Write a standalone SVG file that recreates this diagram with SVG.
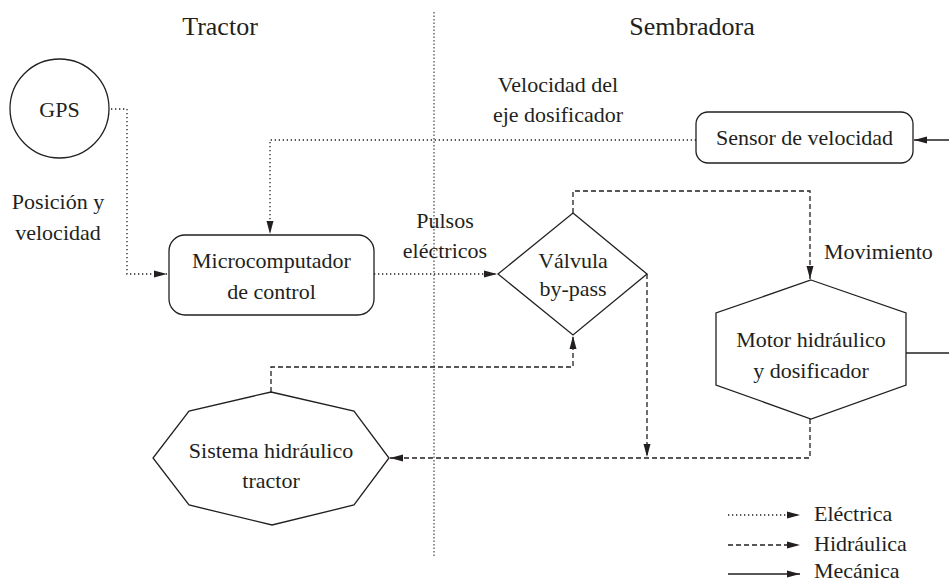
<svg xmlns="http://www.w3.org/2000/svg" width="949" height="583" viewBox="0 0 949 583">
<style>
  .bg{fill:#ffffff}
  .shape{fill:none;stroke:#231f20;stroke-width:1.3}
  .txt{font-family:"Liberation Serif","DejaVu Serif",serif;font-size:22px;fill:#231f20;text-anchor:middle}
  .title{font-size:26px}
  .lft{text-anchor:start}
  .elec{fill:none;stroke:#231f20;stroke-width:1.3;stroke-dasharray:1.3 2.7}
  .hyd{fill:none;stroke:#231f20;stroke-width:1.3;stroke-dasharray:5 3}
  .mec{fill:none;stroke:#231f20;stroke-width:1.3}
  .div{fill:none;stroke:#231f20;stroke-width:1;stroke-dasharray:1.5 2}
</style>
<defs>
  <marker id="arr" markerUnits="userSpaceOnUse" markerWidth="14" markerHeight="10" viewBox="0 0 14 10" refX="13" refY="5" orient="auto">
    <path d="M0,1.5 L13,5 L0,8.5 Z" fill="#231f20"/>
  </marker>
</defs>
<rect class="bg" x="0" y="0" width="949" height="583"/>

<line id="divider" class="div" x1="434" y1="12" x2="434" y2="556"/>
<text class="txt title" x="220" y="35">Tractor</text>
<text class="txt title" x="692" y="35">Sembradora</text>

<g id="connectors">
  <polyline class="elec" points="111,109 127,109 127,274 167,274" marker-end="url(#arr)"/>
  <polyline class="elec" points="696,140 270,140 270,234" marker-end="url(#arr)"/>
  <line class="elec" x1="374" y1="274" x2="497" y2="274" marker-end="url(#arr)"/>
  <line class="mec" x1="949" y1="140" x2="914" y2="140" marker-end="url(#arr)"/>
  <polyline class="hyd" points="573,213 573,191 810,191 810,279" marker-end="url(#arr)"/>
  <polyline class="hyd" points="647,274 647,457" marker-end="url(#arr)"/>
  <polyline class="hyd" points="810,419 810,458 390,458" marker-end="url(#arr)"/>
  <polyline class="hyd" points="271,392 271,367 573,367 573,336" marker-end="url(#arr)"/>
  <line class="mec" x1="906" y1="353" x2="949" y2="353"/>
</g>

<g id="lbl-gps-out">
  <text class="txt" x="58" y="209">Posición y</text>
  <text class="txt" x="58" y="240">velocidad</text>
</g>
<g id="lbl-vel-eje">
  <text class="txt" x="558" y="92">Velocidad del</text>
  <text class="txt" x="558" y="122">eje dosificador</text>
</g>
<g id="lbl-pulsos">
  <text class="txt" x="445" y="228">Pulsos</text>
  <text class="txt" x="445" y="258">eléctricos</text>
</g>
<text id="lbl-mov" class="txt lft" x="824" y="259">Movimiento</text>

<g id="gps">
  <circle class="shape" cx="59.5" cy="108.5" r="49.5"/>
  <text class="txt" x="59.5" y="117">GPS</text>
</g>

<g id="micro">
  <rect class="shape" x="169" y="235" width="205" height="80" rx="16" ry="16"/>
  <text class="txt" x="271.5" y="268">Microcomputador</text>
  <text class="txt" x="271.5" y="299">de control</text>
</g>

<g id="valvula">
  <polygon class="shape" points="573,213 647,274 573,335 498,274"/>
  <text class="txt" x="573" y="268">Válvula</text>
  <text class="txt" x="573" y="296">by-pass</text>
</g>

<g id="sensor">
  <rect class="shape" x="696" y="112" width="217" height="51" rx="12" ry="12"/>
  <text class="txt" x="804.5" y="145">Sensor de velocidad</text>
</g>

<g id="motor">
  <polygon class="shape" points="811,280 906,313 906,385 811,419 716,385 716,313"/>
  <text class="txt" x="811" y="347">Motor hidráulico</text>
  <text class="txt" x="811" y="378">y dosificador</text>
</g>

<g id="sistema">
  <polygon class="shape" points="271,392 354,411 389,458 354,505 272,525 189,505 153,458 189,411"/>
  <text class="txt" x="271" y="458">Sistema hidráulico</text>
  <text class="txt" x="271" y="488">tractor</text>
</g>

<g id="legend">
  <line class="elec" x1="728" y1="515" x2="800" y2="515" marker-end="url(#arr)"/>
  <text class="txt lft" x="814" y="521">Eléctrica</text>
  <line class="hyd" x1="728" y1="545" x2="800" y2="545" marker-end="url(#arr)"/>
  <text class="txt lft" x="814" y="551">Hidráulica</text>
  <line class="mec" x1="728" y1="574" x2="800" y2="574" marker-end="url(#arr)"/>
  <text class="txt lft" x="814" y="578">Mecánica</text>
</g>
</svg>
